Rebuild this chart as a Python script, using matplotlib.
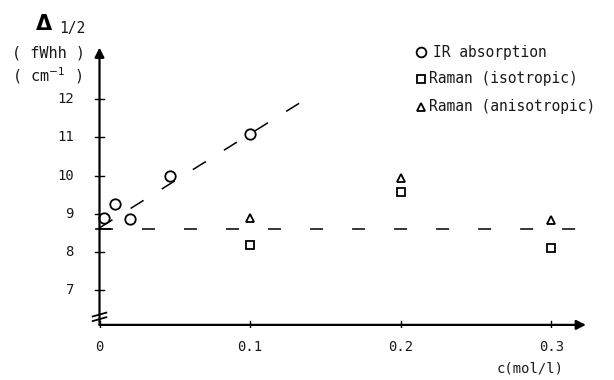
import matplotlib
matplotlib.use("Agg")
import matplotlib.pyplot as plt
from matplotlib.lines import Line2D

# Data
ir_c = [0.003, 0.01, 0.02, 0.047, 0.1]
ir_w = [8.88, 9.25, 8.86, 10.0, 11.1]
iso_c = [0.1, 0.2, 0.3]
iso_w = [8.18, 9.56, 8.1]
aniso_c = [0.1, 0.2, 0.3]
aniso_w = [8.9, 9.93, 8.83]
# dashed lines
raman_level = 8.59
ir_fit_intercept = 8.63
ir_fit_slope = 24.6
ir_fit_range = [0.0, 0.133]
raman_range = [0.0, 0.321]

xticks = [0, 0.1, 0.2, 0.3]
xticklabels = ["0", "0.1", "0.2", "0.3"]
yticks = [7, 8, 9, 10, 11, 12]
yticklabels = ["7", "8", "9", "10", "11", "12"]

FONT = "DejaVu Sans Mono"
plt.rcParams["font.family"] = FONT
TXT = "#1a1a1a"

fig = plt.figure(figsize=(6.14, 3.8), dpi=100)
ax = fig.add_axes([0.113, 0.136, 0.9715 - 0.113, 0.8899 - 0.136])
ax.set_xlim(-0.02, 0.33)
ax.set_ylim(6.0, 13.5)
for s in ax.spines.values():
    s.set_visible(False)
ax.set_xticks([])
ax.set_yticks([])

# axes with arrows
ax.annotate("", xy=(0.323, 6.09), xytext=(0.0, 6.09),
            arrowprops=dict(arrowstyle="-|>", lw=1.6, color="black",
                            mutation_scale=14, shrinkA=0, shrinkB=0),
            annotation_clip=False)
ax.annotate("", xy=(0.0, 13.35), xytext=(0.0, 6.09),
            arrowprops=dict(arrowstyle="-|>", lw=1.6, color="black",
                            mutation_scale=14, shrinkA=0, shrinkB=0),
            annotation_clip=False)

# ticks
for t, lab in zip(xticks, xticklabels):
    ax.plot([t, t], [6.0, 6.18], color="black", lw=1.0)
    ax.text(t, 5.5, lab, ha="center", va="center", fontsize=10, color=TXT)
for t, lab in zip(yticks, yticklabels):
    ax.plot([-0.003, 0.003], [t, t], color="black", lw=1.0)
    ax.text(-0.017, t, lab, ha="right", va="center", fontsize=10, color=TXT)

# axis break marks
for yb in [6.24, 6.36]:
    ax.plot([-0.0045, 0.0045], [yb - 0.05, yb + 0.05], color="black", lw=1.3)

# dashed lines
ax.plot(raman_range, [raman_level, raman_level], color="black", lw=1.1,
        dashes=(8.5, 19))
ax.plot([-0.002, 0.007], [raman_level, raman_level], color="black", lw=1.2)
fx = ir_fit_range
fy = [ir_fit_intercept + ir_fit_slope * x for x in fx]
ax.plot(fx, fy, color="black", lw=1.1, dashes=(10, 14))

# data points
ax.plot(ir_c, ir_w, "o", ms=7.5, mfc="white", mec="black", mew=1.3)
ax.plot(iso_c, iso_w, "s", ms=5.5, mfc="white", mec="black", mew=1.3)
ax.plot(aniso_c, aniso_w, "^", ms=6, mfc="white", mec="black", mew=1.3)

# legend (manual)
leg = [("o", 7, "IR absorption", 52, 433), ("s", 5.5, "Raman (isotropic)", 79, 429),
       ("^", 6, "Raman (anisotropic)", 107, 429)]
for m, ms, lab, ypx, xt in leg:
    yf = 1 - ypx / 380
    fig.add_artist(Line2D([421 / 614], [yf], marker=m, ms=ms, mfc="white",
                          mec="black", mew=1.3, transform=fig.transFigure))
    fig.text(xt / 614, yf, lab, ha="left", va="center", fontsize=10.5,
             color=TXT)

# y label
fig.text(36 / 614, 1 - 24 / 380, "\u0394", fontsize=15, fontweight="bold",
         ha="left", va="center", family="DejaVu Sans")
fig.text(59 / 614, 1 - 29 / 380, "1/2", fontsize=10.5, ha="left", va="center",
         color=TXT)
fig.text(12 / 614, 1 - 53 / 380, "( fWhh )", fontsize=11, ha="left",
         va="center", color=TXT)
fig.text(12 / 614, 1 - 76 / 380, "( cm$^{-1}$ )", fontsize=11, ha="left",
         va="center", color=TXT)

# x label
fig.text(530 / 614, 1 - 369 / 380, "c(mol/l)", fontsize=10, ha="center",
         va="center", color=TXT)

fig.savefig("out.png", dpi=100)
